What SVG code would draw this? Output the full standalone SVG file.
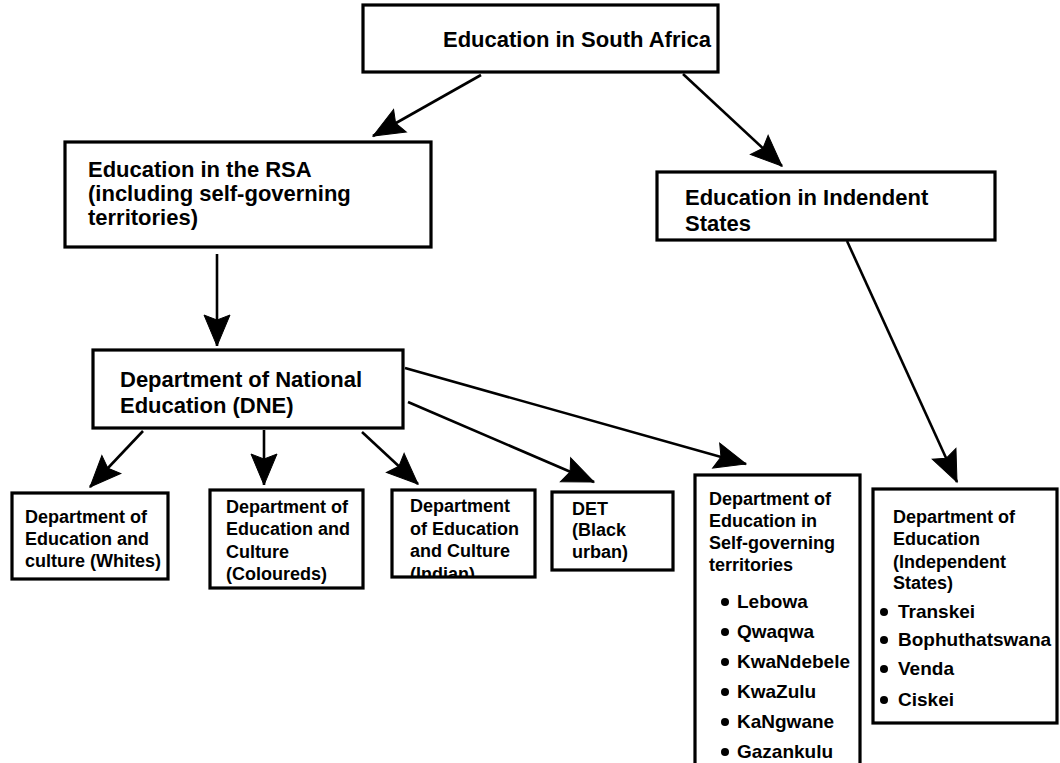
<svg xmlns="http://www.w3.org/2000/svg" width="1060" height="763" viewBox="0 0 1060 763">
<style>
.box{fill:#fff;stroke:#000;stroke-width:3.2}
.t{font-family:"Liberation Sans",Arial,sans-serif;font-weight:bold;fill:#000}
.t22{font-size:22px}
.t18{font-size:18px}
.t19{font-size:19px}
.conn line{stroke:#000;stroke-width:2.6;marker-end:url(#ah)}
</style>
<defs>
<marker id="ah" markerUnits="userSpaceOnUse" markerWidth="34" markerHeight="28" refX="31" refY="13" orient="auto" overflow="visible">
<path d="M0,0 L31,13 L0,26 L5,13 Z" fill="#000" stroke="#000" stroke-width="1"/>
</marker>
<clipPath id="clipIndian"><rect x="392" y="490" width="143" height="87"/></clipPath>
</defs>
<rect width="1060" height="763" fill="#fff"/>

<g id="connectors" class="conn">
<line x1="481" y1="75" x2="373" y2="136"/>
<line x1="683" y1="74" x2="782" y2="166"/>
<line x1="217" y1="254" x2="217" y2="346"/>
<line x1="847" y1="241" x2="957" y2="482"/>
<line x1="143" y1="431" x2="90" y2="487"/>
<line x1="264" y1="430" x2="264" y2="485"/>
<line x1="362" y1="432" x2="418" y2="484"/>
<line x1="408" y1="402" x2="594" y2="482"/>
<line x1="405" y1="368" x2="746" y2="464"/>
</g>

<g id="n-top">
<rect class="box" x="363" y="5" width="355" height="67"/>
<text class="t t22" x="443" y="47">Education in South Africa</text>
</g>

<g id="n-rsa">
<rect class="box" x="65" y="142" width="366" height="105"/>
<text class="t t22" x="88" y="177">Education in the RSA</text>
<text class="t t22" x="88" y="201">(including self-governing</text>
<text class="t t22" x="88" y="225">territories)</text>
</g>

<g id="n-indep">
<rect class="box" x="657" y="172" width="338" height="68"/>
<text class="t t22" x="685" y="205">Education in Indendent</text>
<text class="t t22" x="685" y="231">States</text>
</g>

<g id="n-dne">
<rect class="box" x="93" y="350" width="310" height="78"/>
<text class="t t22" x="120" y="387">Department of National</text>
<text class="t t22" x="120" y="413">Education (DNE)</text>
</g>

<g id="n-whites">
<rect class="box" x="12" y="493" width="156" height="86"/>
<text class="t t18" x="25" y="523">Department of</text>
<text class="t t18" x="25" y="545">Education and</text>
<text class="t t18" x="25" y="567">culture (Whites)</text>
</g>

<g id="n-coloureds">
<rect class="box" x="210" y="490" width="153" height="98"/>
<text class="t t18" x="226" y="513">Department of</text>
<text class="t t18" x="226" y="535">Education and</text>
<text class="t t18" x="226" y="558">Culture</text>
<text class="t t18" x="226" y="580">(Coloureds)</text>
</g>

<g id="n-indian">
<rect class="box" x="392" y="490" width="143" height="87"/>
<g clip-path="url(#clipIndian)">
<text class="t t18" x="410" y="512">Department</text>
<text class="t t18" x="410" y="535">of Education</text>
<text class="t t18" x="410" y="557">and Culture</text>
<text class="t t18" x="410" y="580">(Indian)</text>
</g>
</g>

<g id="n-det">
<rect class="box" x="552" y="492" width="121" height="78"/>
<text class="t t18" x="572" y="515">DET</text>
<text class="t t18" x="572" y="536">(Black</text>
<text class="t t18" x="572" y="558">urban)</text>
</g>

<g id="n-selfgov">
<rect class="box" x="695" y="475" width="165" height="300"/>
<text class="t t18" x="709" y="505">Department of</text>
<text class="t t18" x="709" y="527">Education in</text>
<text class="t t18" x="709" y="549">Self-governing</text>
<text class="t t18" x="709" y="571">territories</text>
<circle cx="725" cy="602" r="4"/><text class="t t19" x="737" y="608">Lebowa</text>
<circle cx="725" cy="632" r="4"/><text class="t t19" x="737" y="638">Qwaqwa</text>
<circle cx="725" cy="662" r="4"/><text class="t t19" x="737" y="668">KwaNdebele</text>
<circle cx="725" cy="692" r="4"/><text class="t t19" x="737" y="698">KwaZulu</text>
<circle cx="725" cy="722" r="4"/><text class="t t19" x="737" y="728">KaNgwane</text>
<circle cx="725" cy="752" r="4"/><text class="t t19" x="737" y="758">Gazankulu</text>
</g>

<g id="n-indepdept">
<rect class="box" x="873" y="489" width="184" height="234"/>
<text class="t t18" x="893" y="523">Department of</text>
<text class="t t18" x="893" y="545">Education</text>
<text class="t t18" x="893" y="568">(Independent</text>
<text class="t t18" x="893" y="589">States)</text>
<circle cx="884" cy="612" r="4"/><text class="t t19" x="898" y="618">Transkei</text>
<circle cx="884" cy="640" r="4"/><text class="t t19" x="898" y="646">Bophuthatswana</text>
<circle cx="884" cy="669" r="4"/><text class="t t19" x="898" y="675">Venda</text>
<circle cx="884" cy="700" r="4"/><text class="t t19" x="898" y="706">Ciskei</text>
</g>
</svg>
